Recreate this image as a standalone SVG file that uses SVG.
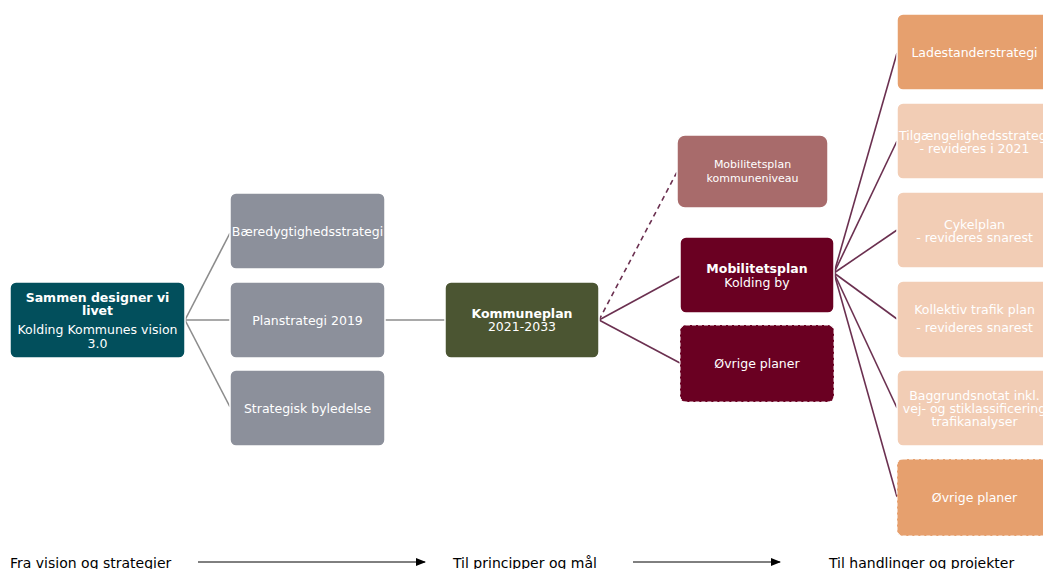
<svg xmlns="http://www.w3.org/2000/svg" width="1043" height="569" viewBox="0 0 1043 569">
<defs>
<style>
.t{font-family:"DejaVu Sans",Verdana,sans-serif;fill:#fff;text-anchor:middle;font-size:12.5px}
.b{font-weight:bold}
.box{stroke:#fff;stroke-width:1.5}
.dash{stroke:#fff;stroke-width:1;stroke-dasharray:4 2}
.g{stroke:#8c8c8c;stroke-width:1.6;fill:none}
.p{stroke:#6b3050;stroke-width:1.6;fill:none}
.lab{font-family:"DejaVu Sans",Verdana,sans-serif;fill:#000;font-size:14px}
</style>
<marker id="ah" markerWidth="10" markerHeight="8" refX="9" refY="4" orient="auto" markerUnits="userSpaceOnUse">
<path d="M0,0 L10,4 L0,8 Z" fill="#000"/>
</marker>
</defs>
<rect width="1043" height="569" fill="#fff"/>
<g id="connectors">
<line class="g" x1="185" y1="320" x2="230" y2="233"/>
<line class="g" x1="185" y1="320" x2="230" y2="320"/>
<line class="g" x1="185" y1="320" x2="230" y2="407"/>
<line class="g" x1="385" y1="320" x2="445" y2="320"/>
<line class="p" x1="599" y1="320" x2="677" y2="172" stroke-dasharray="5 4"/>
<line class="p" x1="599" y1="320" x2="680" y2="276"/>
<line class="p" x1="599" y1="320" x2="680" y2="363"/>
<line class="p" x1="834" y1="273" x2="897" y2="53"/>
<line class="p" x1="834" y1="273" x2="897" y2="141"/>
<line class="p" x1="834" y1="273" x2="897" y2="230"/>
<line class="p" x1="834" y1="273" x2="897" y2="319"/>
<line class="p" x1="834" y1="273" x2="897" y2="408"/>
<line class="p" x1="834" y1="273" x2="897" y2="497"/>
</g>
<g id="vision">
<rect class="box" x="10" y="282" width="175" height="76" rx="6" fill="#024f5c"/>
<text class="t b" x="97.5" y="302">Sammen designer vi</text>
<text class="t b" x="97.5" y="315">livet</text>
<text class="t" x="97.5" y="334">Kolding Kommunes vision</text>
<text class="t" x="97.5" y="348">3.0</text>
</g>
<g id="baeredygtighed">
<rect class="box" x="230" y="193" width="155" height="76" rx="6" fill="#8c909b"/>
<text class="t" x="307.5" y="236">Bæredygtighedsstrategi</text>
</g>
<g id="planstrategi">
<rect class="box" x="230" y="282" width="155" height="76" rx="6" fill="#8c909b"/>
<text class="t" x="307.5" y="325">Planstrategi 2019</text>
</g>
<g id="byledelse">
<rect class="box" x="230" y="370" width="155" height="76" rx="6" fill="#8c909b"/>
<text class="t" x="307.5" y="413">Strategisk byledelse</text>
</g>
<g id="kommuneplan">
<rect class="box" x="445" y="282" width="154" height="76" rx="6" fill="#4b5532"/>
<text class="t b" x="522" y="318">Kommuneplan</text>
<text class="t" x="522" y="331">2021-2033</text>
</g>
<g id="mob-kommune">
<rect class="box" x="677" y="135" width="151" height="73" rx="8" fill="#a86b6b"/>
<text class="t" x="752.5" y="168" style="font-size:11px">Mobilitetsplan</text>
<text class="t" x="752.5" y="182" style="font-size:11px">kommuneniveau</text>
</g>
<g id="mob-kolding">
<rect class="box" x="680" y="237" width="154" height="76" rx="6" fill="#6a0022"/>
<text class="t b" x="757" y="273">Mobilitetsplan</text>
<text class="t" x="757" y="287">Kolding by</text>
</g>
<g id="ovrige1">
<rect class="dash" x="680" y="325" width="154" height="77" rx="6" fill="#6a0022"/>
<text class="t" x="757" y="368">Øvrige planer</text>
</g>
<g id="ladestander">
<rect class="box" x="897" y="14" width="155" height="76" rx="6" fill="#e6a06e"/>
<text class="t" x="974.5" y="57">Ladestanderstrategi</text>
</g>
<g id="tilgaengelighed">
<rect class="box" x="897" y="103" width="155" height="76" rx="6" fill="#f2cdb5"/>
<text class="t" x="974.5" y="140">Tilgængelighedsstrategi</text>
<text class="t" x="974.5" y="153">- revideres i 2021</text>
</g>
<g id="cykelplan">
<rect class="box" x="897" y="192" width="155" height="76" rx="6" fill="#f2cdb5"/>
<text class="t" x="974.5" y="229">Cykelplan</text>
<text class="t" x="974.5" y="242">- revideres snarest</text>
</g>
<g id="kollektiv">
<rect class="box" x="897" y="281" width="155" height="77" rx="6" fill="#f2cdb5"/>
<text class="t" x="974.5" y="314">Kollektiv trafik plan</text>
<text class="t" x="974.5" y="332">- revideres snarest</text>
</g>
<g id="baggrund">
<rect class="box" x="897" y="370" width="155" height="76" rx="6" fill="#f2cdb5"/>
<text class="t" x="974.5" y="400">Baggrundsnotat inkl.</text>
<text class="t" x="974.5" y="413">vej- og stiklassificering</text>
<text class="t" x="974.5" y="426">trafikanalyser</text>
</g>
<g id="ovrige2">
<rect class="dash" x="897" y="459" width="155" height="77" rx="6" fill="#e6a06e"/>
<text class="t" x="974.5" y="502">Øvrige planer</text>
</g>
<g id="footer">
<text class="lab" x="10" y="568">Fra vision og strategier</text>
<line x1="198" y1="562" x2="425" y2="562" stroke="#000" stroke-width="1" marker-end="url(#ah)"/>
<text class="lab" x="453" y="568">Til principper og mål</text>
<line x1="633" y1="562" x2="780" y2="562" stroke="#000" stroke-width="1" marker-end="url(#ah)"/>
<text class="lab" x="829" y="568">Til handlinger og projekter</text>
</g>
</svg>
